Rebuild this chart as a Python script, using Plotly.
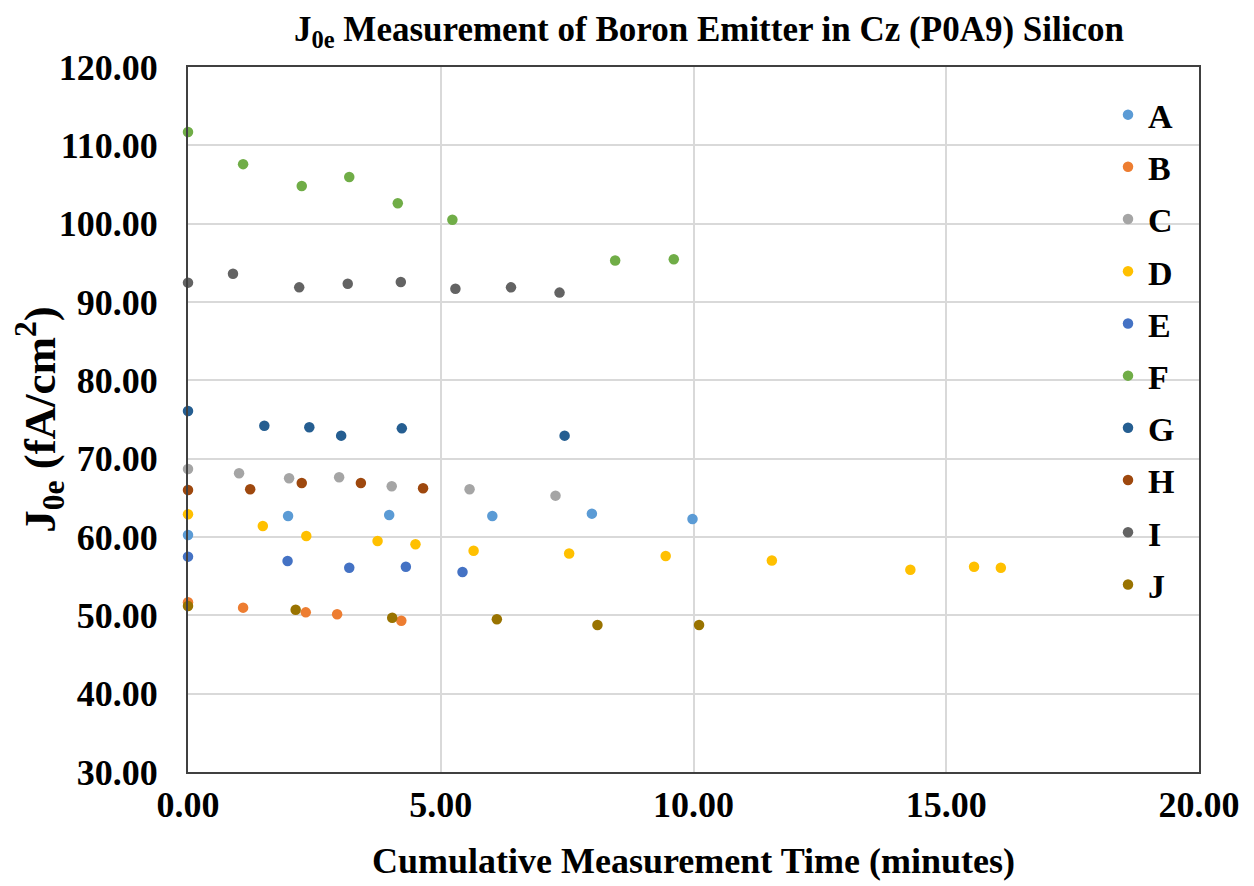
import plotly.graph_objects as go

series_names = ["A", "B", "C", "D", "E", "F", "G", "H", "I", "J"]
colors = ["#5B9BD5", "#ED7D31", "#A5A5A5", "#FFC000", "#4472C4",
          "#70AD47", "#255E91", "#9E480E", "#636363", "#997300"]

A_x = [0.0, 1.98, 3.98, 6.02, 7.99, 9.98]
A_y = [60.25, 62.68, 62.81, 62.68, 62.98, 62.30]
B_x = [0.0, 1.09, 2.33, 2.95, 4.22]
B_y = [51.66, 50.98, 50.38, 50.13, 49.31]
C_x = [0.0, 1.01, 2.00, 2.99, 4.03, 5.57, 7.27]
C_y = [68.68, 68.13, 67.49, 67.62, 66.47, 66.09, 65.28]
D_x = [0.0, 1.48, 2.34, 3.75, 4.50, 5.65, 7.54, 9.45, 11.55, 14.29, 15.55, 16.08]
D_y = [62.90, 61.40, 60.13, 59.50, 59.07, 58.25, 57.90, 57.57, 57.00, 55.83, 56.20, 56.08]
E_x = [0.0, 1.97, 3.19, 4.31, 5.43]
E_y = [57.49, 56.94, 56.08, 56.20, 55.53]
F_x = [0.0, 1.09, 2.25, 3.19, 4.15, 5.23, 8.45, 9.61]
F_y = [111.7, 107.6, 104.8, 105.96, 102.6, 100.5, 95.3, 95.45]
G_x = [0.0, 1.51, 2.40, 3.03, 4.23, 7.45]
G_y = [76.08, 74.20, 74.00, 72.94, 73.87, 72.94]
H_x = [0.0, 1.23, 2.25, 3.42, 4.65]
H_y = [66.00, 66.09, 66.90, 66.90, 66.22]
I_x = [0.0, 0.89, 2.20, 3.16, 4.21, 5.29, 6.39, 7.35]
I_y = [92.47, 93.60, 91.87, 92.33, 92.55, 91.70, 91.87, 91.20]
J_x = [0.0, 2.13, 4.04, 6.11, 8.10, 10.11]
J_y = [51.19, 50.72, 49.70, 49.49, 48.76, 48.76]

xs = [A_x, B_x, C_x, D_x, E_x, F_x, G_x, H_x, I_x, J_x]
ys = [A_y, B_y, C_y, D_y, E_y, F_y, G_y, H_y, I_y, J_y]

x_ticks = [0, 5, 10, 15, 20]
y_ticks = [30, 40, 50, 60, 70, 80, 90, 100, 110, 120]

FONT = "Liberation Serif"

fig = go.Figure()
for name, c, x, y in zip(series_names, colors, xs, ys):
    fig.add_trace(go.Scatter(
        x=x, y=y, mode="markers", name=name, legendgroup=name,
        marker=dict(color=c, size=10.5, line=dict(width=0)),
        cliponaxis=False,
    ))

fig.update_layout(
    width=1254, height=886,
    margin=dict(l=180, r=63, t=59, b=122, autoexpand=False),
    paper_bgcolor="white", plot_bgcolor="white",
    font=dict(family=FONT, color="black", size=36),
    title=dict(
        text="<b>J<sub>0e</sub> Measurement of Boron Emitter in Cz (P0A9) Silicon</b>",
        x=0.559, xanchor="center", y=0.977, yanchor="middle",
        font=dict(family=FONT, size=35, color="black"),
    ),
    showlegend=True,
    legend=dict(
        x=0.91, y=0.973, xanchor="left", yanchor="top",
        bgcolor="rgba(0,0,0,0)",
        font=dict(family=FONT, size=34, color="black", weight="bold"),
        tracegroupgap=5, itemwidth=30,
    ),
)

fig.update_xaxes(
    range=[0, 20], tickvals=x_ticks, tickformat=".2f",
    showgrid=True, gridcolor="#D9D9D9", gridwidth=1.5,
    showline=True, linecolor="#404040", linewidth=2, mirror=True,
    zeroline=False, ticks="", automargin=False,
    tickfont=dict(family=FONT, size=36, weight="bold"),
    title=dict(text="<b>Cumulative Measurement Time (minutes)</b>",
               font=dict(family=FONT, size=36), standoff=24),
)
fig.update_yaxes(
    range=[30, 120], tickvals=y_ticks, tickformat=".2f",
    showgrid=True, gridcolor="#D9D9D9", gridwidth=1.5,
    showline=True, linecolor="#404040", linewidth=2, mirror=True,
    zeroline=False, ticks="", ticklabelstandoff=21, automargin=True,
    tickfont=dict(family=FONT, size=36, weight="bold"),
    title=dict(text="<b>J<sub>0e</sub> (fA/cm<sup>2</sup>)</b>",
               font=dict(family=FONT, size=45), standoff=4),
)

fig.write_html("out.html")
